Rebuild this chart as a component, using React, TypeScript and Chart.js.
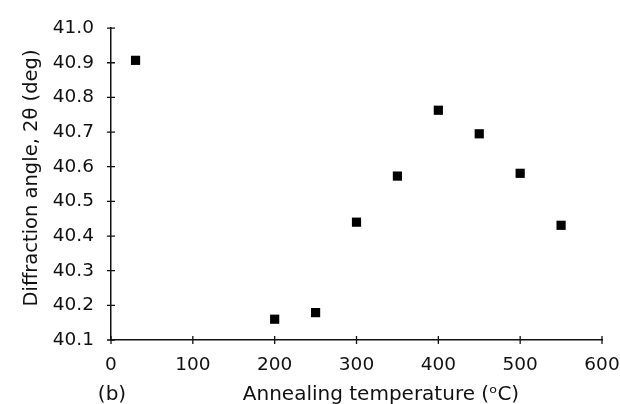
import React, { useEffect, useRef } from "react";
import { Chart, registerables } from "chart.js";

Chart.register(...registerables);

const temperatures = [30, 200, 250, 300, 350, 400, 450, 500, 550];
const angles = [40.907, 40.16, 40.179, 40.44, 40.573, 40.763, 40.695, 40.581, 40.431];
const xTicks = [0, 100, 200, 300, 400, 500, 600];
const yTicks = [40.1, 40.2, 40.3, 40.4, 40.5, 40.6, 40.7, 40.8, 40.9, 41.0];
const xTitle = "Annealing temperature (\u1D52C)";
const yTitle = "Diffraction angle, 2\u03B8 (deg)";
const panelLabel = "(b)";

const FONT = "'DejaVu Sans', sans-serif";

export default function App() {
  const ref = useRef<HTMLCanvasElement | null>(null);

  useEffect(() => {
    if (!ref.current) return;
    const overlay = {
      id: "overlay",
      afterDraw(chart: any) {
        const ctx = chart.ctx;
        const xs = chart.scales.x;
        const ys = chart.scales.y;
        const ca = chart.chartArea;
        ctx.save();
        ctx.strokeStyle = "#111";
        ctx.lineWidth = 1.3;
        ctx.beginPath();
        xTicks.forEach((v) => {
          const px = xs.getPixelForValue(v);
          ctx.moveTo(px, ca.bottom - 4);
          ctx.lineTo(px, ca.bottom + 4);
        });
        yTicks.forEach((v) => {
          const py = ys.getPixelForValue(v);
          ctx.moveTo(ca.left - 4, py);
          ctx.lineTo(ca.left + 4, py);
        });
        ctx.stroke();
        ctx.fillStyle = "#111";
        ctx.textAlign = "center";
        ctx.textBaseline = "alphabetic";
        ctx.font = `20px ${FONT}`;
        ctx.fillText(xTitle, 381, 400);
        ctx.fillText(panelLabel, 112, 400);
        ctx.font = `19.5px ${FONT}`;
        ctx.translate(37, 178);
        ctx.rotate(-Math.PI / 2);
        ctx.fillText(yTitle, 0, 0);
        ctx.restore();
      },
    };
    const chart = new Chart(ref.current, {
      type: "scatter",
      data: {
        datasets: [
          {
            data: temperatures.map((t, i) => ({ x: t, y: angles[i] })),
            pointStyle: "rect",
            pointRadius: 6.5,
            backgroundColor: "#000",
            borderColor: "#000",
            borderWidth: 0,
          },
        ],
      },
      options: {
        animation: false,
        responsive: false,
        events: [],
        layout: { padding: { top: 24, right: 0, left: 0, bottom: 0 } },
        plugins: { legend: { display: false }, tooltip: { enabled: false } },
        scales: {
          x: {
            type: "linear",
            min: 0,
            max: 600,
            afterFit: (s: any) => {
              s.height = 64;
              s.paddingRight = 18;
            },
            afterBuildTicks: (s: any) => {
              s.ticks = xTicks.map((v) => ({ value: v }));
            },
            grid: { display: true, drawOnChartArea: false, drawTicks: false },
            border: { display: true, color: "#111", width: 1.5 },
            ticks: {
              color: "#111",
              padding: 14,
              font: { family: FONT, size: 18.5 },
              maxRotation: 0,
            },
          },
          y: {
            type: "linear",
            min: 40.1,
            max: 41.0,
            afterFit: (s: any) => {
              s.width = 111;
            },
            afterBuildTicks: (s: any) => {
              s.ticks = yTicks.map((v) => ({ value: v }));
            },
            grid: { display: true, drawOnChartArea: false, drawTicks: false },
            border: { display: true, color: "#111", width: 1.5 },
            ticks: {
              color: "#111",
              padding: 17,
              font: { family: FONT, size: 18.5 },
              callback: (v: any) => Number(v).toFixed(1),
            },
          },
        },
      },
      plugins: [overlay],
    });
    return () => chart.destroy();
  }, []);

  return (
    <div style={{ position: "absolute", left: 0, top: 0, width: 620, height: 404, background: "#fff" }}>
      <canvas ref={ref} width={620} height={404} style={{ display: "block" }} />
    </div>
  );
}
